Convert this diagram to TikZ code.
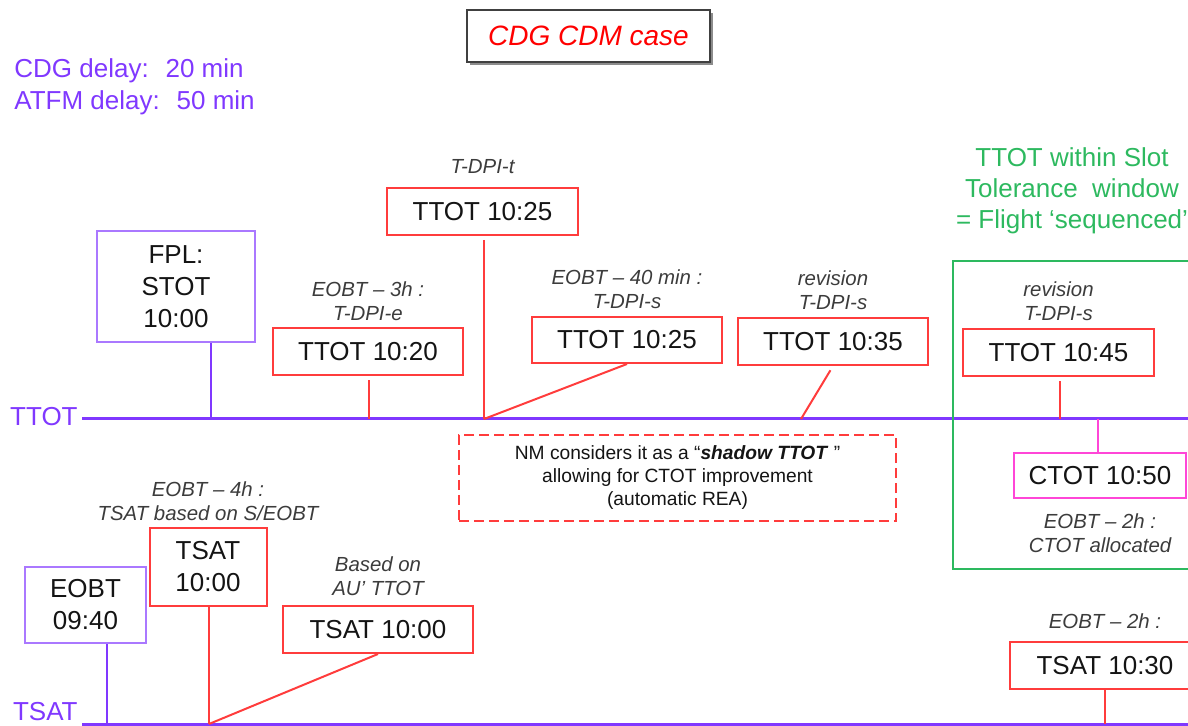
\documentclass[tikz,border=0pt]{standalone}
\usepackage{fontspec}
\setmainfont{Liberation Sans}
\usetikzlibrary{positioning}
\usetikzlibrary{calc}
\usetikzlibrary{shadows}

\definecolor{axispurple}{RGB}{128,56,255}
\definecolor{boxpurple}{RGB}{170,120,255}
\definecolor{slotred}{RGB}{255,60,60}
\definecolor{seqgreen}{RGB}{45,185,95}
\definecolor{ctotpink}{RGB}{255,70,215}
\definecolor{notegray}{RGB}{60,60,60}
\definecolor{textdark}{RGB}{20,20,20}

\begin{document}
\begin{tikzpicture}[x=0.5pt, y=-0.5pt]
    % page has the size of the slide (1 unit = 1 pixel)
    \useasboundingbox (0,0) rectangle (1188,726);

    \tikzstyle{redbox} = [draw=slotred, line width=1pt, rectangle, inner sep=0pt, text=textdark, font=\fontsize{13}{16}\selectfont, align=center]
    \tikzstyle{purplebox} = [draw=boxpurple, line width=1pt, rectangle, inner sep=0pt, text=textdark, font=\fontsize{13}{16}\selectfont, align=center]
    \tikzstyle{note} = [text=notegray, font=\fontsize{10.2}{12}\selectfont\itshape, align=center, inner sep=1pt]
    \tikzstyle{redline} = [draw=slotred, line width=1pt]
    \tikzstyle{purpleline} = [draw=axispurple, line width=1pt]
    \tikzstyle{axis} = [draw=axispurple, line width=1.5pt]
    \tikzstyle{axislabel} = [text=axispurple, font=\fontsize{13}{16}\selectfont, inner sep=1pt, anchor=east]

    % title and delays
    \node[draw=black!75, line width=0.8pt, fill=white, drop shadow={shadow xshift=1.5pt, shadow yshift=-1.5pt, fill=black!45, opacity=1}, minimum width=121.5pt, minimum height=26pt, text=red, font=\fontsize{14}{16}\selectfont\itshape] (TITLE) at (588.5,36) {CDG CDM case};
    \node[anchor=base west, inner sep=0pt, text=axispurple, font=\fontsize{13}{16}\selectfont] (D1) at (14,78) {CDG delay:~ 20 min};
    \node[anchor=base west, inner sep=0pt, text=axispurple, font=\fontsize{13}{16}\selectfont] (D2) at (14,110) {ATFM delay:~ 50 min};

    % the two time lines
    \node[axislabel] (L1) at (80,417) {TTOT};
    \node[axislabel] (L2) at (80,712) {TSAT};
    \coordinate (E1) at (1188,419);
    \coordinate (E2) at (1188,724);
    \draw[axis] ($(L1.east |- E1) + (2,0)$) -- (E1);
    \draw[axis] ($(L2.east |- E2) + (2,0)$) -- (E2);

    % points on the time lines
    \coordinate (X1_1) at (211,419);
    \coordinate (X1_2) at (369,419);
    \coordinate (X1_3) at (484,419);
    \coordinate (X1_4) at (801,419);
    \coordinate (X1_5) at (1060,419);
    \coordinate (X1_6) at (1098,419);
    \coordinate (X2_1) at (107,724);
    \coordinate (X2_2) at (209,724);
    \coordinate (X2_3) at (1105,724);

    % slot tolerance window
    \draw[draw=seqgreen, line width=1pt] (953,261) rectangle (1200,569);
    \node[text=seqgreen, font=\fontsize{13}{15.5}\selectfont, align=center] (SEQ) at (1072,191) {TTOT within Slot\\Tolerance~ window\\= Flight ‘sequenced’};

    % TTOT boxes
    \node[purplebox, minimum width=79pt, minimum height=55.5pt] (FPL) at (176,286.5) {FPL:\\STOT\\10:00};
    \node[redbox, minimum width=95pt, minimum height=23.5pt] (TT_1) at (368,352) {TTOT 10:20};
    \node[redbox, minimum width=95.5pt, minimum height=23.5pt] (TT_2) at (482.5,211.5) {TTOT 10:25};
    \node[redbox, minimum width=95pt, minimum height=23pt] (TT_3) at (627,340) {TTOT 10:25};
    \node[redbox, minimum width=95pt, minimum height=23.5pt] (TT_4) at (833,341.5) {TTOT 10:35};
    \node[redbox, minimum width=95.5pt, minimum height=23.5pt] (TT_5) at (1058.5,353) {TTOT 10:45};
    \node[draw=ctotpink, line width=1pt, inner sep=0pt, text=textdark, font=\fontsize{13}{16}\selectfont, minimum width=86pt, minimum height=22.5pt] (CT) at (1100,475.5) {CTOT 10:50};

    % notes on the TTOT boxes
    \node[note, above=2pt of TT_1] (N1) {EOBT -- 3h :\\T-DPI-e};
    \node[note, above=5.5pt of TT_2] (N2) {T-DPI-t};
    \node[note, above=2.5pt of TT_3] (N3) {EOBT -- 40 min :\\T-DPI-s};
    \node[note, above=2.5pt of TT_4] (N4) {revision\\T-DPI-s};
    \node[note, above=2.5pt of TT_5] (N5) {revision\\T-DPI-s};
    \node[note, below=6pt of CT] (N6) {EOBT -- 2h :\\CTOT allocated};

    % shadow TTOT remark
    \node[draw=slotred, dash pattern=on 5pt off 2.5pt, line width=1pt, minimum width=218.5pt, minimum height=43pt, text=textdark, font=\fontsize{9.6}{11.5}\selectfont, align=center] (NM) at (677.5,478) {NM considers it as a “\textbf{\textit{shadow TTOT}} ”\\allowing for CTOT improvement\\(automatic REA)};

    % TSAT boxes
    \node[purplebox, minimum width=60.5pt, minimum height=38pt] (EO) at (85.5,605) {EOBT\\09:40};
    \node[redbox, minimum width=58.5pt, minimum height=39pt] (TS_1) at (208,567) {TSAT\\10:00};
    \node[redbox, minimum width=95pt, minimum height=23.5pt] (TS_2) at (378,629.5) {TSAT 10:00};
    \node[redbox, minimum width=95pt, minimum height=23.5pt] (TS_3) at (1105,665.5) {TSAT 10:30};

    % notes on the TSAT boxes
    \node[note, above=2pt of TS_1] (N7) {EOBT -- 4h :\\TSAT based on S/EOBT};
    \node[note, above=3.5pt of TS_2] (N8) {Based on\\AU’ TTOT};
    \node[note, above=5pt of TS_3] (N9) {EOBT -- 2h :};

    % connect the boxes to the time lines
    \draw[purpleline] (FPL.south -| X1_1) -- (X1_1);
    \draw[purpleline] (EO.south -| X2_1) -- (X2_1);
    \foreach \b/\p in {TT_1/X1_2, TT_2/X1_3, TT_5/X1_5} {
        \draw[redline, shorten <=2pt] (\b.south -| \p) -- (\p);
    }
    \draw[redline] (TT_3.south) -- (X1_3);
    \draw[redline, shorten <=2.5pt] (TT_4.south) -- (X1_4);
    \draw[draw=ctotpink, line width=1pt] (CT.north -| X1_6) -- (X1_6);
    \draw[redline] (TS_1.south -| X2_2) -- (X2_2);
    \draw[redline] (TS_2.south) -- (X2_2);
    \draw[redline] (TS_3.south -| X2_3) -- (X2_3);

\end{tikzpicture}
\end{document}
